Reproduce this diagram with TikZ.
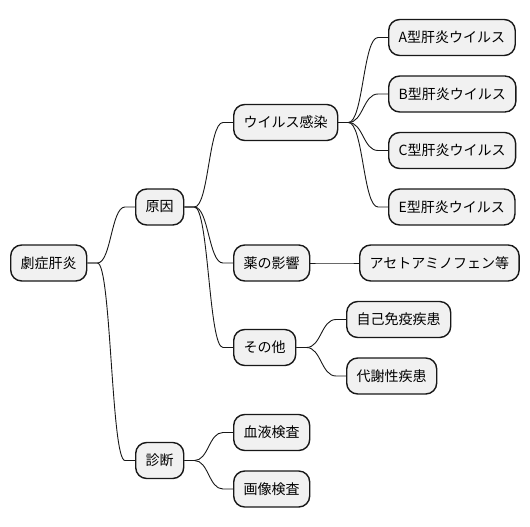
\documentclass[tikz,border=0pt]{standalone}
\usepackage{fontspec}
\newfontfamily\cjk{Noto Sans CJK JP}
\usetikzlibrary{calc}
\definecolor{boxfill}{HTML}{F1F1F1}
\definecolor{boxline}{HTML}{181818}
\definecolor{linkline}{HTML}{181818}
\tikzset{
  mmbox/.style={draw=boxline, fill=boxfill, line width=1.4pt, rounded corners=11pt,
    minimum height=36pt, inner xsep=10pt, inner ysep=0pt, anchor=west,
    font=\cjk\fontsize{14}{16}\selectfont, text=black},
  mmlink/.style={draw=linkline, line width=0.9pt,
    to path={let \p1=(\tikztostart), \p2=(\tikztotarget), \n1={0.5*(\x1+\x2)} in
      -- ({\x1+10pt},\y1) .. controls (\n1,\y1) and (\n1,\y2) .. ({\x2-10pt},\y2) -- (\tikztotarget)}}
}
\begin{document}
\begin{tikzpicture}[x=1pt,y=-1pt]
\useasboundingbox (0,0) rectangle (530,527);
\node[mmbox] (root) at (10,263) {劇症肝炎};
\node[mmbox] (cause) at (135,207) {原因};
\node[mmbox] (diag) at (135,460.5) {診断};
\node[mmbox] (virus) at (233,122.5) {ウイルス感染};
\node[mmbox] (drug) at (233,263) {薬の影響};
\node[mmbox] (other) at (233,347.5) {その他};
\node[mmbox] (hav) at (388,37.5) {A型肝炎ウイルス};
\node[mmbox] (hbv) at (388,94) {B型肝炎ウイルス};
\node[mmbox] (hcv) at (388,150.5) {C型肝炎ウイルス};
\node[mmbox] (hev) at (388,207) {E型肝炎ウイルス};
\node[mmbox] (apap) at (359,263) {アセトアミノフェン等};
\node[mmbox] (auto) at (346,319.5) {自己免疫疾患};
\node[mmbox] (meta) at (346,376) {代謝性疾患};
\node[mmbox] (blood) at (233,432.5) {血液検査};
\node[mmbox] (image) at (233,489) {画像検査};
\begin{scope}[on background layer/.style={}]
\draw[mmlink] (root.east) to (cause.west);
\draw[mmlink] (root.east) to (diag.west);
\draw[mmlink] (cause.east) to (virus.west);
\draw[mmlink] (cause.east) to (drug.west);
\draw[mmlink] (cause.east) to (other.west);
\draw[mmlink] (virus.east) to (hav.west);
\draw[mmlink] (virus.east) to (hbv.west);
\draw[mmlink] (virus.east) to (hcv.west);
\draw[mmlink] (virus.east) to (hev.west);
\draw[mmlink] (drug.east) to (apap.west);
\draw[mmlink] (other.east) to (auto.west);
\draw[mmlink] (other.east) to (meta.west);
\draw[mmlink] (diag.east) to (blood.west);
\draw[mmlink] (diag.east) to (image.west);
\end{scope}
\end{tikzpicture}
\end{document}
